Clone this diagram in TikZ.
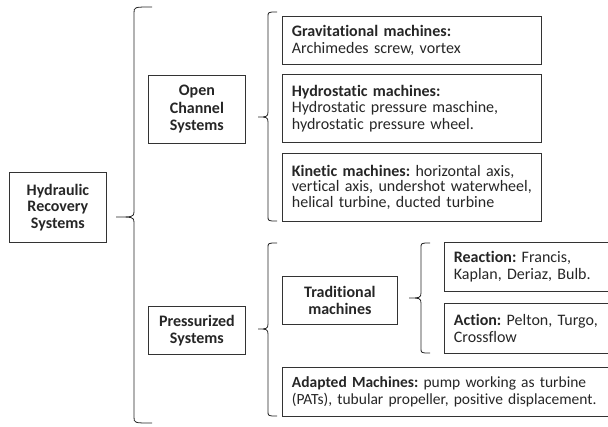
\documentclass[tikz,border=0pt]{standalone}
\usepackage{fontspec}
\setmainfont[Ligatures=NoCommon]{Carlito}
\newcommand{\oneline}[1]{\mbox{#1}}
\begin{document}
\frenchspacing
\begin{tikzpicture}[x=1pt,y=-1pt,
  every node/.style={font=\fontsize{16}{16.5}\selectfont, text=black!85},
  box/.style={draw=black!80, line width=0.8pt, anchor=north west, inner xsep=0pt, inner ysep=0pt, align=center},
  lbox/.style={draw=black!80, line width=0.8pt, anchor=north west, inner xsep=9.5pt, inner ysep=0pt, align=left},
  brace/.style={draw=black!85, line width=0.8pt}]
\useasboundingbox (0,0) rectangle (608,426);
% title boxes
\node[box, minimum width=97pt, minimum height=70pt] (hyd) at (9,172) {\bfseries Hydraulic\\\bfseries Recovery\\\bfseries Systems};
\node[box, minimum width=97pt, minimum height=68pt, font=\fontsize{16}{17.5}\selectfont] (open) at (148,75) {\bfseries Open\\\bfseries Channel\\\bfseries Systems};
\node[box, minimum width=97pt, minimum height=48pt] (press) at (148,306) {\bfseries Pressurized\\\bfseries Systems};
\node[box, minimum width=115pt, minimum height=48pt] (trad) at (282,276) {\bfseries Traditional\\\bfseries machines};
% content boxes
\node[lbox, text width=240pt, minimum height=48pt] (grav) at (282,16) {\oneline{\textbf{Gravitational machines:}}\\\oneline{Archimedes screw, vortex}};
\node[lbox, text width=240pt, minimum height=68pt] (hydro) at (282,74) {\oneline{\textbf{Hydrostatic machines:}}\\\oneline{Hydrostatic pressure maschine,}\\\oneline{hydrostatic pressure wheel.}};
\node[lbox, text width=240pt, minimum height=68pt, font=\fontsize{16}{15.5}\selectfont] (kin) at (282,153) {\oneline{\textbf{Kinetic machines:} horizontal axis,}\\\oneline{vertical axis, undershot waterwheel,}\\\oneline{helical turbine, ducted turbine}};
\node[lbox, text width=144.5pt, minimum height=49pt] (react) at (444,242) {\oneline{\textbf{Reaction:} Francis,}\\\oneline{Kaplan, Deriaz, Bulb.}};
\node[lbox, text width=144.5pt, minimum height=50pt] (action) at (444,303) {\oneline{\textbf{Action:} Pelton, Turgo,}\\\oneline{Crossflow}};
\node[lbox, text width=306.5pt, minimum height=49pt, font=\fontsize{15.5}{16.5}\selectfont] (adapt) at (282,367) {\oneline{\textbf{Adapted Machines:} pump working as turbine}\\\oneline{(PATs), tubular propeller, positive displacement.}};
% brace tips
\coordinate (t1) at (116,217);
\coordinate (t2) at (258,117);
\coordinate (t3) at (258,329);
\coordinate (t4) at (409,298);
% braces
\draw[brace] (152,7) .. controls (134,7) .. (134,13) -- (134,212) .. controls (134,217) and (132,217) .. (t1)
  .. controls (132,217) and (134,217) .. (134,222) -- (134,417) .. controls (134,423) .. (152,423);
\draw[brace] (277,12) .. controls (268,12) .. (268,17) -- (268,112) .. controls (268,117) and (266,117) .. (t2)
  .. controls (266,117) and (268,117) .. (268,122) -- (268,216) .. controls (268,221) .. (277,221);
\draw[brace] (277,243) .. controls (268,243) .. (268,248) -- (268,324) .. controls (268,329) and (266,329) .. (t3)
  .. controls (266,329) and (268,329) .. (268,334) -- (268,411) .. controls (268,416) .. (277,416);
\draw[brace] (430,243) .. controls (421,243) .. (421,248) -- (421,293) .. controls (421,298) and (419,298) .. (t4)
  .. controls (419,298) and (421,298) .. (421,303) -- (421,348) .. controls (421,353) .. (430,353);
\end{tikzpicture}
\end{document}
